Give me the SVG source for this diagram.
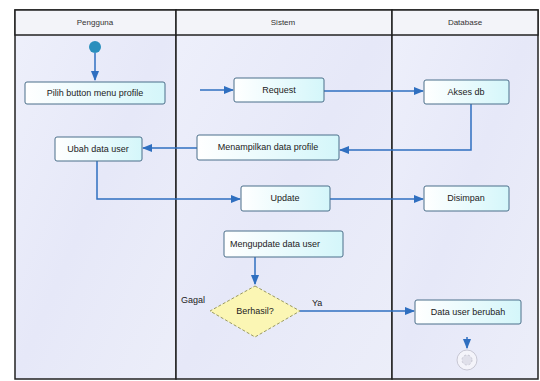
<svg xmlns="http://www.w3.org/2000/svg" width="540" height="381" viewBox="0 0 540 381">
<defs>
<linearGradient id="bg" x1="0" y1="0" x2="1" y2="1">
<stop offset="0" stop-color="#eef0fb"/><stop offset="0.5" stop-color="#e6e8f8"/><stop offset="1" stop-color="#eceef9"/>
</linearGradient>
<linearGradient id="act" x1="0" y1="0" x2="1" y2="0">
<stop offset="0" stop-color="#ffffff"/><stop offset="1" stop-color="#d4f6fa"/>
</linearGradient>
<marker id="arr" viewBox="0 0 10 10" refX="9" refY="5" markerWidth="7" markerHeight="7" orient="auto">
<path d="M0,1 L10,5 L0,9 z" fill="#2f6fc0"/>
</marker>
<style>
.lane{fill:url(#bg);stroke:#222;stroke-width:1.5}
.hdr{fill:#f3f4f9;stroke:#222;stroke-width:1.5}
.htxt{font-family:"Liberation Sans",Arial,sans-serif;font-size:8px;fill:#333;text-anchor:middle}
.box{fill:url(#act);stroke:#4b6f8a;stroke-width:1}
.txt{font-family:"Liberation Sans",Arial,sans-serif;font-size:9px;fill:#222;text-anchor:middle}
.lbl{font-family:"Liberation Sans",Arial,sans-serif;font-size:9px;fill:#222}
.con{fill:none;stroke:#2f6fc0;stroke-width:1.5;marker-end:url(#arr)}
</style>
</defs>
<rect width="540" height="381" fill="#ffffff"/>
<g id="lanes">
<rect class="lane" x="15" y="10" width="161" height="369"/>
<rect class="lane" x="176" y="10" width="216" height="369"/>
<rect class="lane" x="392" y="10" width="146" height="369"/>
<rect class="hdr" x="15" y="10" width="161" height="25"/>
<rect class="hdr" x="176" y="10" width="216" height="25"/>
<rect class="hdr" x="392" y="10" width="146" height="25"/>
<text class="htxt" x="95" y="25">Pengguna</text>
<text class="htxt" x="283" y="25">Sistem</text>
<text class="htxt" x="465" y="25">Database</text>
</g>
<g id="connectors">
<path class="con" d="M95,53 L95,80"/>
<path class="con" d="M200,90 L233,90"/>
<path class="con" d="M324,91 L423,91"/>
<path class="con" d="M471,104 L471,150 L340,150"/>
<path class="con" d="M197,148 L143,148"/>
<path class="con" d="M97,161 L97,199 L240,199"/>
<path class="con" d="M330,199 L423,199"/>
<path class="con" d="M255,257 L255,284"/>
<path class="con" d="M300,311 L414,311"/>
<path class="con" d="M467,337 L467,348"/>
</g>
<g id="start"><circle cx="95" cy="47" r="6" fill="#2a8fbd"/></g>
<g id="pilih"><rect class="box" x="25" y="82" width="140" height="22" rx="2"/><text class="txt" x="95" y="96">Pilih button menu profile</text></g>
<g id="tampilkan"><rect class="box" x="234" y="78" width="90" height="24" rx="2"/><text class="txt" x="279" y="93">Request</text></g>
<g id="akses"><rect class="box" x="424" y="80" width="85" height="24" rx="2"/><text class="txt" x="466" y="95">Akses db</text></g>
<g id="menampilkan"><rect class="box" x="197" y="135" width="142" height="25" rx="2"/><text class="txt" x="268" y="150">Menampilkan data profile</text></g>
<g id="ubah"><rect class="box" x="55" y="137" width="87" height="24" rx="2"/><text class="txt" x="98" y="152">Ubah data user</text></g>
<g id="update"><rect class="box" x="241" y="186" width="89" height="25" rx="2"/><text class="txt" x="285" y="201">Update</text></g>
<g id="disimpan"><rect class="box" x="424" y="186" width="85" height="25" rx="2"/><text class="txt" x="466" y="201">Disimpan</text></g>
<g id="mengupdate"><rect class="box" x="224" y="231" width="119" height="26" rx="2"/><text class="lbl" x="230" y="247">Mengupdate data user</text></g>
<g id="decision"><polygon points="255,286 300,311 255,337 210,311" fill="#fbf6b4" stroke="#9a9a60" stroke-width="1" stroke-dasharray="3,2"/><text class="txt" x="255" y="314">Berhasil?</text></g>
<g id="labels"><text class="lbl" x="181" y="303">Gagal</text><text class="lbl" x="312" y="306">Ya</text></g>
<g id="berubah"><rect class="box" x="415" y="300" width="106" height="24" rx="2"/><text class="txt" x="468" y="315">Data user berubah</text></g>
<g id="end"><circle cx="467" cy="360" r="10" fill="#f4f4fa" stroke="#c8c8d4" stroke-width="1"/><circle cx="467" cy="360" r="5" fill="#e0e0ea" stroke="#c8c8d4" stroke-width="1" stroke-dasharray="2,2"/></g>
</svg>
